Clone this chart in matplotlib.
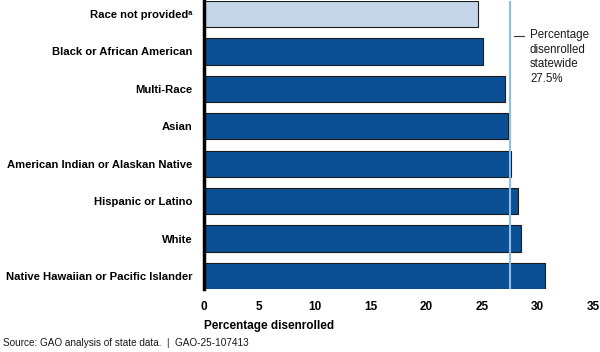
import matplotlib
matplotlib.use("Agg")
import matplotlib.pyplot as plt

plt.rcParams['font.family'] = ['Liberation Sans', 'DejaVu Sans']

categories = ["Race not provided\u1d43", "Black or African American", "Multi-Race", "Asian",
              "American Indian or Alaskan Native", "Hispanic or Latino", "White",
              "Native Hawaiian or Pacific Islander"]
values = [24.7, 25.1, 27.1, 27.4, 27.6, 28.3, 28.5, 30.7]
statewide = 27.5
xticks = [0, 5, 10, 15, 20, 25, 30, 35]

dark = "#0B4F94"
light = "#C4D6E8"
colors = [light] + [dark] * (len(values) - 1)

fig = plt.figure(figsize=(6, 3.52), dpi=100)
ax = fig.add_axes([203.5 / 600, 1 - 289 / 352, (593 - 203.5) / 600, 288 / 352])

ypos = list(range(len(categories)))
ax.barh(ypos, values, height=0.7, color=colors, edgecolor="#1a1a1a", linewidth=0.8, zorder=2)
ax.axvline(statewide, color="#8DBDEB", linewidth=1.5, zorder=3)

ax.set_ylim(len(categories) - 1 + 0.35, -0.35)
ax.set_xlim(0, 35)
ax.set_xticks(xticks)
ax.set_xticklabels([str(t) for t in xticks], fontweight="bold", fontsize=8.5)
ax.set_yticks(ypos)
ax.set_yticklabels(categories, fontweight="bold", fontsize=8.1)
ax.tick_params(axis="both", length=0)
ax.tick_params(axis="y", pad=8)
ax.tick_params(axis="x", pad=9)

for s in ["top", "right", "bottom"]:
    ax.spines[s].set_visible(False)
ax.spines["left"].set_linewidth(2.5)
ax.spines["left"].set_color("black")
ax.spines["left"].set_zorder(4)

ax.set_xlabel("Percentage disenrolled", fontweight="bold", fontsize=8.5, loc="left", labelpad=5)

# annotation for statewide line
fig.add_artist(plt.Line2D([514 / 600, 524 / 600], [1 - 36 / 352, 1 - 36 / 352], color="#333333", linewidth=0.8))
fig.text(530 / 600, 1 - 29 / 352, "Percentage\ndisenrolled\nstatewide\n27.5%", fontsize=8.3,
         va="top", ha="left", linespacing=1.3, color="#1a1a1a")

fig.text(3 / 600, 1 - 343 / 352, "Source: GAO analysis of state data.  |  GAO-25-107413",
         fontsize=7.2, va="center", ha="left", color="#1a1a1a")

fig.savefig("out.png", dpi=100)
